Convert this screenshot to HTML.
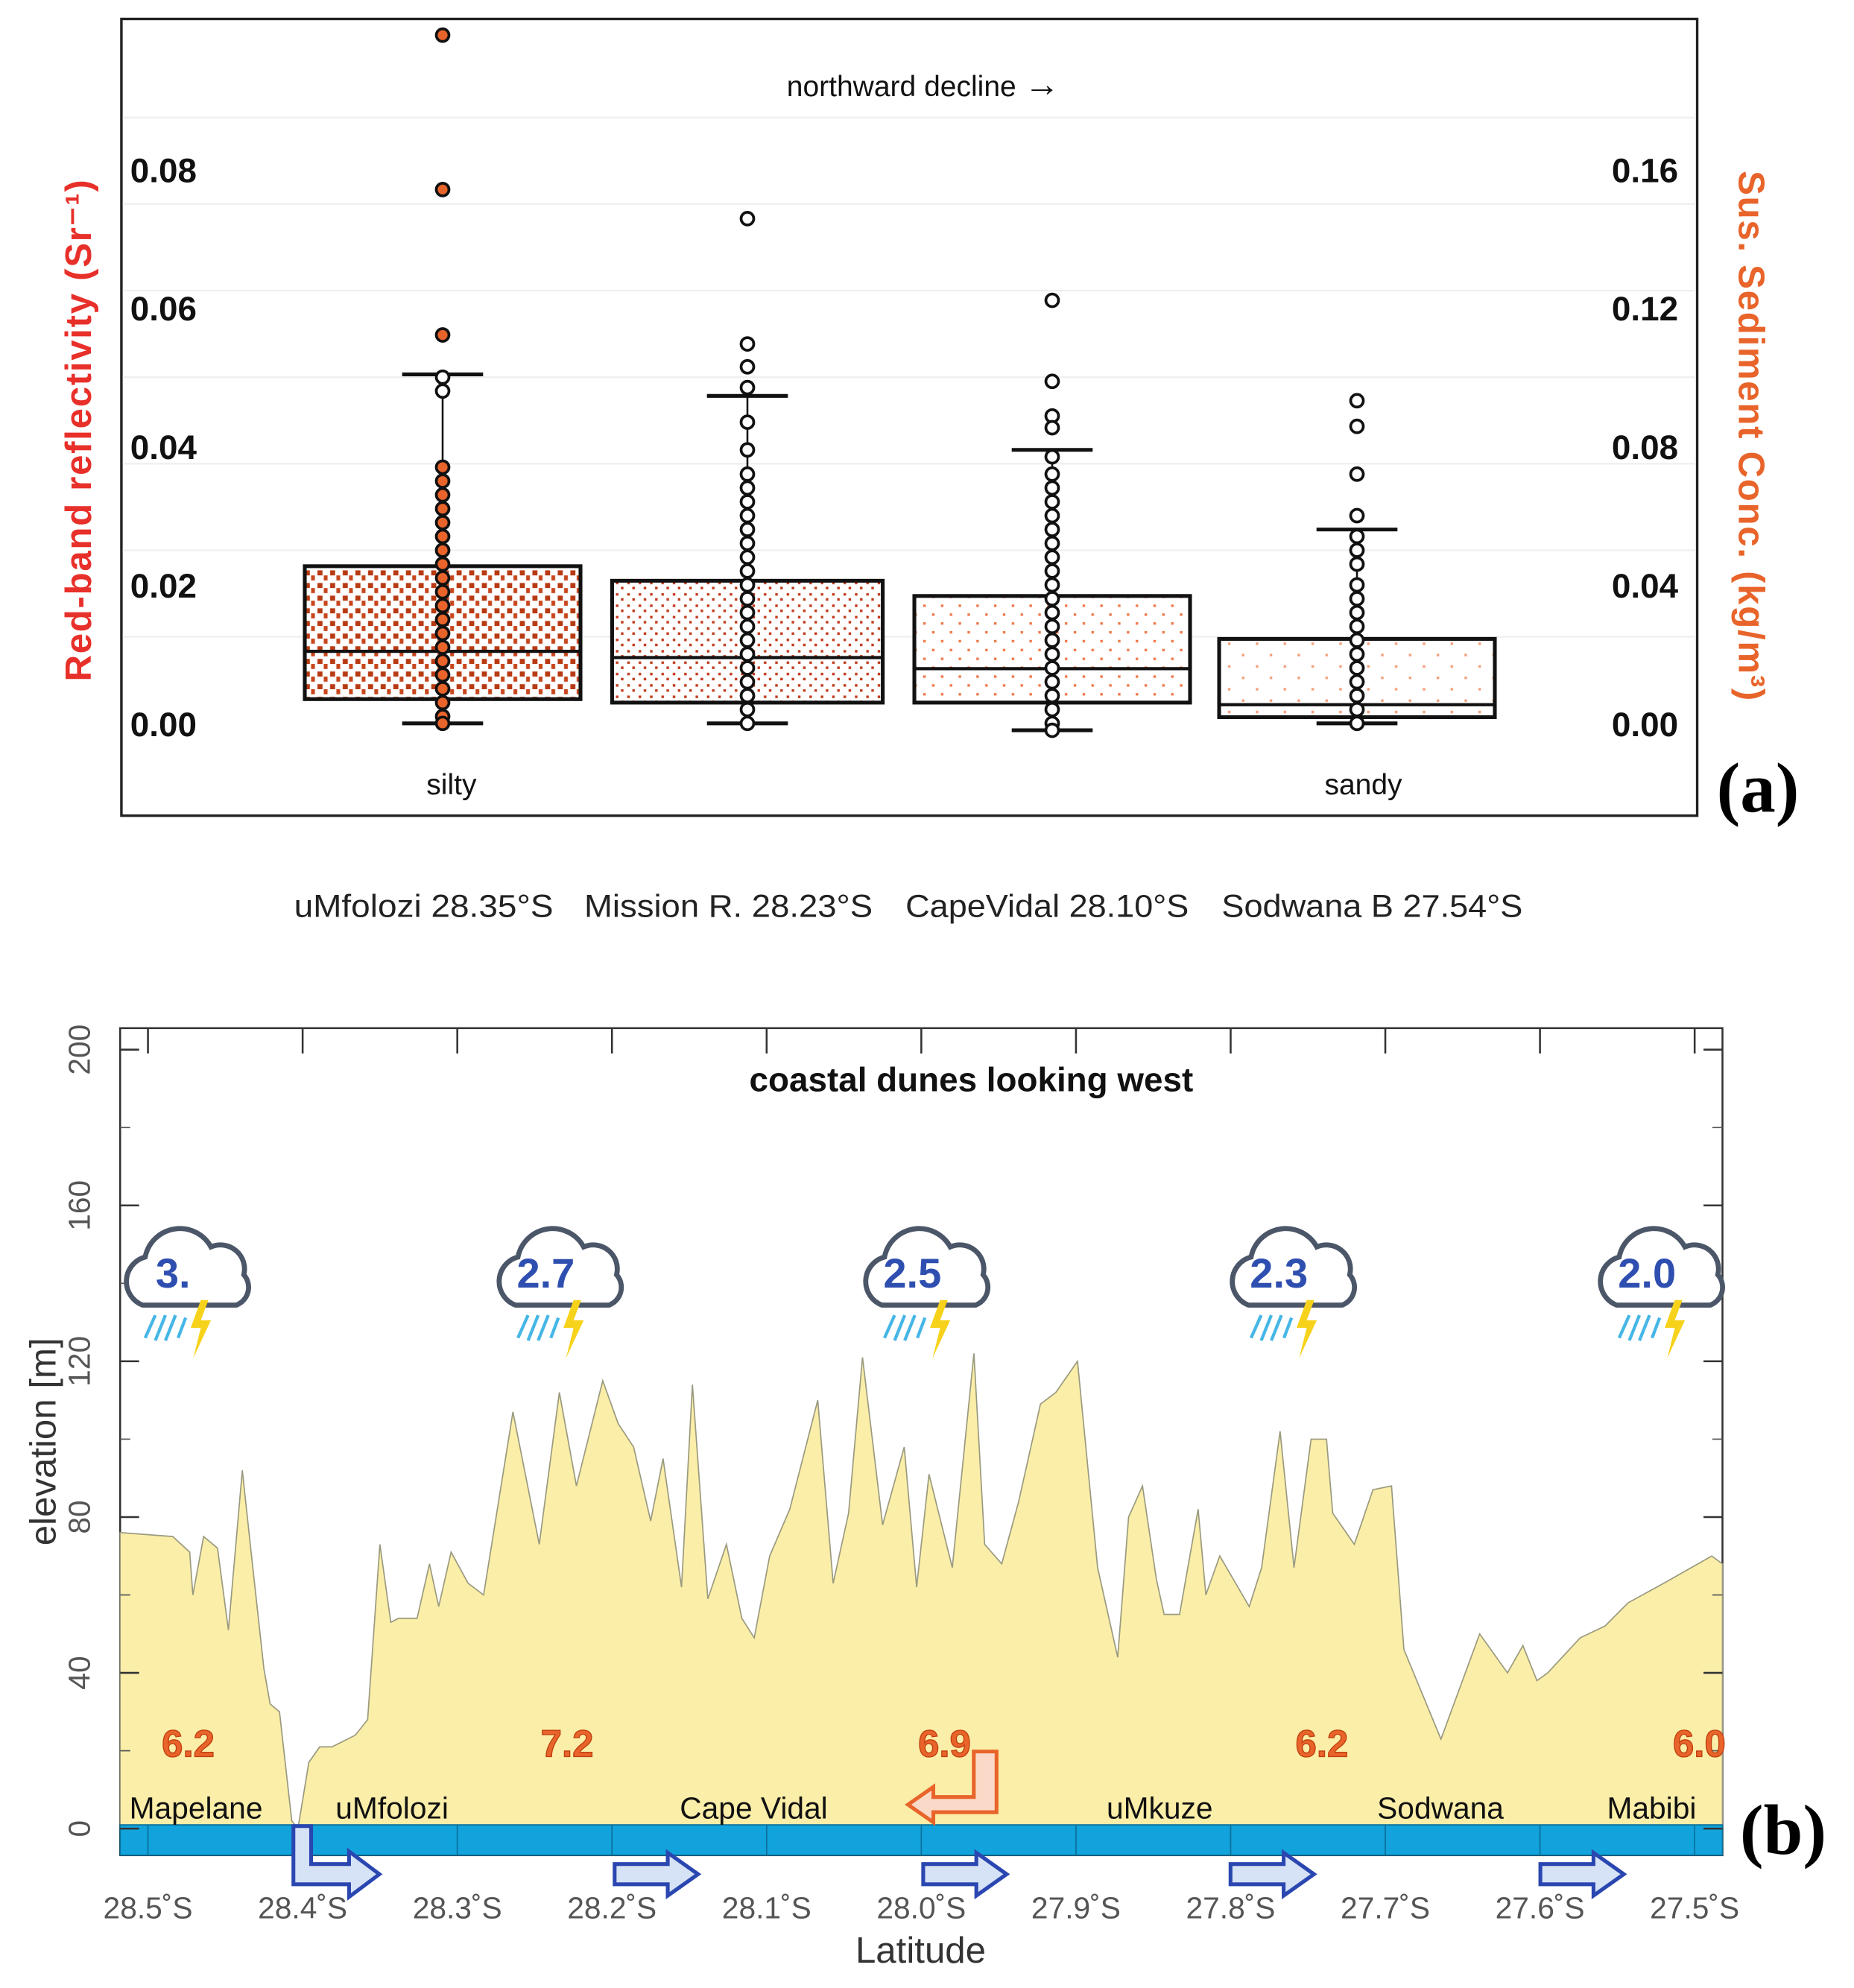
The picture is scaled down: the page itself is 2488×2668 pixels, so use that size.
<!DOCTYPE html>
<html><head><meta charset="utf-8"><style>
html,body{margin:0;padding:0;background:#fff}
svg{display:block}
text{font-family:"Liberation Sans",sans-serif}
</style></head><body>
<svg width="2488" height="2668" viewBox="0 0 1466 1572" preserveAspectRatio="none" xmlns="http://www.w3.org/2000/svg">
<defs>
<pattern id="p1" width="10" height="10" patternUnits="userSpaceOnUse"><rect width="10" height="10" fill="#fff"/><rect x="1" y="1" width="4" height="4" fill="#b83a12"/><rect x="6" y="5" width="3" height="4" fill="#c8461c"/></pattern>
<pattern id="p2" width="9" height="9" patternUnits="userSpaceOnUse"><rect width="9" height="9" fill="#fff"/><rect x="1" y="1" width="2" height="2" fill="#c0391a"/><rect x="5" y="5" width="2" height="2" fill="#c0391a"/></pattern>
<pattern id="p3" width="14" height="14" patternUnits="userSpaceOnUse"><rect width="14" height="14" fill="#fff"/><rect x="2" y="2" width="2" height="2" fill="#ef7a4a"/><rect x="9" y="9" width="2" height="2" fill="#ef7a4a"/></pattern>
<pattern id="p4" width="22" height="18" patternUnits="userSpaceOnUse"><rect width="22" height="18" fill="#fff"/><rect x="3" y="4" width="2" height="2" fill="#f4a07a"/><rect x="14" y="13" width="2" height="2" fill="#f4a07a"/></pattern>
<g id="cloud">
<path d="M-32,22 a20,20 0 0 1 2,-38 a28,28 0 0 1 52,-8 a19,19 0 0 1 26,22 a15,15 0 0 1 -6,24 z" fill="#fff" stroke="#4b5668" stroke-width="4"/>
<path d="M-22,30 l-8,18 M-14,30 l-8,20 M-6,30 l-8,20 M2,32 l-6,16" stroke="#45b6e6" stroke-width="2.5"/>
<path d="M14,18 l-8,22 h8 l-6,24 l14,-30 h-8 l6,-16 z" fill="#f7d21a"/>
</g>
</defs>

<!-- Panel (a) -->
<g>
<rect x="96" y="15" width="1246" height="630" fill="#fff" stroke="#222" stroke-width="2"/>
<g id="grid-a"></g>
<g id="boxes"></g>
<g id="ticks-a"></g>
<text x="730" y="76" font-size="23" text-anchor="middle" fill="#111">northward decline <tspan font-size="28">→</tspan></text>
<text x="357" y="628" font-size="23" text-anchor="middle" fill="#111">silty</text>
<text x="1078" y="628" font-size="23" text-anchor="middle" fill="#111">sandy</text>
<text x="1390" y="642" font-size="56" font-weight="bold" text-anchor="middle" style="font-family:'Liberation Serif',serif">(a)</text>
<text transform="translate(72,340) rotate(-90)" font-size="29" font-weight="bold" fill="#e8302a" text-anchor="middle" letter-spacing="1">Red-band reflectivity (Sr⁻¹)</text>
<text transform="translate(1375,345) rotate(90)" font-size="29" font-weight="bold" fill="#e8642a" text-anchor="middle" letter-spacing="1">Sus. Sediment Conc. (kg/m³)</text>
<g font-size="25" fill="#222" text-anchor="middle">
<text x="335" y="725" textLength="205" lengthAdjust="spacingAndGlyphs">uMfolozi 28.35°S</text>
<text x="576" y="725" textLength="228" lengthAdjust="spacingAndGlyphs">Mission R. 28.23°S</text>
<text x="828" y="725" textLength="224" lengthAdjust="spacingAndGlyphs">CapeVidal 28.10°S</text>
<text x="1085" y="725" textLength="238" lengthAdjust="spacingAndGlyphs">Sodwana B 27.54°S</text>
</g>
</g>

<!-- Panel (b) -->
<g>
<rect x="95" y="813" width="1267" height="654" fill="#fff" stroke="#333" stroke-width="1.5"/>
<path id="profile" fill="#fbeea8" stroke="#9a9a80" stroke-width="1"/>
<rect x="95" y="1443" width="1267" height="24" fill="#12a3dc" stroke="#0a6f9a" stroke-width="1"/>
<g id="ticks-b"></g>
<text x="768" y="863" font-size="27" font-weight="bold" text-anchor="middle" fill="#111">coastal dunes looking west</text>
<text x="728" y="1552" font-size="29" text-anchor="middle" fill="#333">Latitude</text>
<text transform="translate(44,1140) rotate(-90)" font-size="29" text-anchor="middle" fill="#333">elevation [m]</text>
<g id="weather"></g>
<g id="orange" font-size="30" font-weight="bold" fill="#e8642a" stroke="#c04010" stroke-width="0.8" text-anchor="middle"></g>
<g font-size="24" fill="#111" text-anchor="middle">
<text x="155" y="1438">Mapelane</text>
<text x="310" y="1438">uMfolozi</text>
<text x="596" y="1438">Cape Vidal</text>
<text x="917" y="1438">uMkuze</text>
<text x="1139" y="1438">Sodwana</text>
<text x="1306" y="1438">Mabibi</text>
</g>
<path d="M770,1385 h18 v48 h-50 v8 l-20,-14 l20,-14 v8 h32 v-36 z" fill="#fbd9c8" stroke="#e8642a" stroke-width="3"/>
<g fill="#d6e2f5" stroke="#2a46b0" stroke-width="3">
<path d="M232,1444 h14 v30 h30 v-10 l24,18 l-24,18 v-10 h-44 z"/>
<path d="M486,1474 h42 v-9 l24,17 l-24,17 v-9 h-42 z"/>
<path d="M730,1474 h42 v-9 l24,17 l-24,17 v-9 h-42 z"/>
<path d="M973,1474 h42 v-9 l24,17 l-24,17 v-9 h-42 z"/>
<path d="M1218,1474 h42 v-9 l24,17 l-24,17 v-9 h-42 z"/>
</g>
<text x="1410" y="1466" font-size="56" font-weight="bold" text-anchor="middle" style="font-family:'Liberation Serif',serif">(b)</text>
</g>

<script>
// ---- Panel (a) data ----
const sites = ["uMfolozi","Mission R.","CapeVidal","Sodwana B"];
const q1 = [0.0035,0.0030,0.0030,0.0009];
const med = [0.0104,0.0095,0.0079,0.0027];
const q3 = [0.0227,0.0206,0.0184,0.0122];
const whiskLo = [0.0,0.0,-0.001,0.0];
const whiskHi = [0.0504,0.0473,0.0395,0.0280];
const pts0 = [0.0994,0.0771,0.0561,0.0500,0.0480,0.037,0.035,0.033,0.031,0.029,0.027,0.025,0.023,0.021,0.019,0.017,0.015,0.013,0.011,0.009,0.007,0.005,0.003,0.001,0.0];
const pts1 = [0.0729,0.0548,0.0515,0.0485,0.0435,0.0395,0.036,0.034,0.032,0.030,0.028,0.026,0.024,0.022,0.020,0.018,0.016,0.014,0.012,0.010,0.008,0.006,0.004,0.002,0.0];
const pts2 = [0.0611,0.0494,0.0444,0.0427,0.0385,0.036,0.034,0.032,0.030,0.028,0.026,0.024,0.022,0.020,0.018,0.016,0.014,0.012,0.010,0.008,0.006,0.004,0.002,0.0,-0.001];
const pts3 = [0.0466,0.0429,0.0360,0.0300,0.0270,0.025,0.023,0.020,0.018,0.016,0.014,0.012,0.010,0.008,0.006,0.004,0.002,0.0];
const leftTicks = ["0.00","0.02","0.04","0.06","0.08"];
const leftTickVals = [0,0.02,0.04,0.06,0.08];
const rightTicks = ["0.00","0.04","0.08","0.12","0.16"];
const rightTickVals = [0,0.04,0.08,0.12,0.16];

// ---- Panel (b) data ----
const latTicks = [28.5,28.4,28.3,28.2,28.1,28.0,27.9,27.8,27.7,27.6,27.5];
const elevTicks = [0,40,80,120,160,200];
const profLat = [28.518,28.484,28.473,28.471,28.464,28.455,28.448,28.439,28.433,28.425,28.421,28.415,28.407,28.403,28.396,28.389,28.381,28.366,28.358,28.350,28.343,28.338,28.326,28.318,28.312,28.304,28.293,28.283,28.264,28.247,28.234,28.223,28.206,28.196,28.186,28.175,28.167,28.155,28.148,28.138,28.126,28.116,28.108,28.098,28.085,28.067,28.057,28.047,28.038,28.025,28.011,28.003,27.995,27.980,27.966,27.959,27.948,27.937,27.923,27.913,27.899,27.886,27.873,27.866,27.857,27.848,27.843,27.833,27.821,27.816,27.807,27.788,27.780,27.768,27.759,27.748,27.738,27.734,27.720,27.708,27.696,27.688,27.664,27.639,27.621,27.611,27.602,27.595,27.574,27.558,27.543,27.520,27.489,27.482];
const profElev = [76,75,71,60,75,72,51,92,70,41,32,30,2,0,17,21,21,24,28,73,53,54,54,68,57,71,63,60,107,73,112,88,115,104,98,79,95,62,114,59,73,54,49,70,82,110,63,81,121,78,98,62,91,67,122,73,68,84,109,112,120,67,44,80,88,64,55,55,82,60,70,57,67,102,67,100,100,81,73,87,88,46,23,50,40,47,38,40,49,52,58,63,70,68];
const rainVals = ["3.0","2.7","2.5","2.3","2.0"];
const rainLat = [28.474,28.233,27.996,27.759,27.521];
const waveVals = ["6.2","7.2","6.9","6.2","6.0"];
const waveLat = [28.474,28.229,27.985,27.741,27.497];

const NS="http://www.w3.org/2000/svg";
function mk(tag,attrs,parent){const e=document.createElementNS(NS,tag);for(const k in attrs)e.setAttribute(k,attrs[k]);parent.appendChild(e);return e;}

const yA = v => 572 - v*5475;
const yR = v => 572 - v*2737.5;
const xB = lat => 117 + (28.5-lat)*1223;
const yB = e => 1446 - e*3.08;

const gA=document.getElementById('grid-a');
for(let i=1;i<=7;i++){const g=mk('line',{x1:97,x2:1341,y1:yR(i*0.025),y2:yR(i*0.025),stroke:'#eeeeee','stroke-width':1.2},gA);

}
const tA=document.getElementById('ticks-a');
leftTicks.forEach((t,i)=>{const e=mk('text',{x:103,y:yA(leftTickVals[i])+10,'font-size':27,'font-weight':'bold',fill:'#111'},tA);e.textContent=t;

});
rightTicks.forEach((t,i)=>{const e=mk('text',{x:1327,y:yR(rightTickVals[i])+10,'font-size':27,'font-weight':'bold',fill:'#111','text-anchor':'end'},tA);e.textContent=t;

});

const boxX=[[241,459],[484,698],[723,941],[964,1182]];
const pats=['url(#p1)','url(#p2)','url(#p3)','url(#p4)'];
const allPts=[pts0,pts1,pts2,pts3];
const gB=document.getElementById('boxes');
sites.forEach((s,i)=>{
  const [x0,x1]=boxX[i];
  const px = [350,591,832,1073][i];
  const g=mk('g',{},gB);
  
  
  mk('line',{x1:px,x2:px,y1:yA(whiskHi[i]),y2:yA(whiskLo[i]),stroke:'#111','stroke-width':1.5},g);
  mk('line',{x1:px-32,x2:px+32,y1:yA(whiskHi[i]),y2:yA(whiskHi[i]),stroke:'#111','stroke-width':3},g);
  mk('line',{x1:px-32,x2:px+32,y1:yA(whiskLo[i]),y2:yA(whiskLo[i]),stroke:'#111','stroke-width':3},g);
  mk('rect',{x:x0,y:yA(q3[i]),width:x1-x0,height:yA(q1[i])-yA(q3[i]),fill:pats[i],stroke:'#111','stroke-width':3},g);
  mk('line',{x1:x0,x2:x1,y1:yA(med[i]),y2:yA(med[i]),stroke:'#111','stroke-width':2.5},g);
  allPts[i].forEach(v=>{const c=mk('circle',{cx:px,cy:yA(v),r:5,fill:i==0&&(v>0.052||v<0.04)?'#e8642a':'#fff',stroke:'#111','stroke-width':2.2},g);
    
    });
});

let d='M'+xB(profLat[0]).toFixed(1)+','+yB(0);
profLat.forEach((la,i)=>{d+=' L'+xB(la).toFixed(1)+','+yB(profElev[i]).toFixed(1);});
d+=' L'+xB(profLat[profLat.length-1]).toFixed(1)+','+yB(0)+' Z';
document.getElementById('profile').setAttribute('d',d);

const tB=document.getElementById('ticks-b');
latTicks.forEach(l=>{const x=xB(l);
  mk('line',{x1:x,x2:x,y1:813,y2:833,stroke:'#333','stroke-width':1.5},tB);
  mk('line',{x1:x,x2:x,y1:1443,y2:1467,stroke:'#0a6f9a','stroke-width':1},tB);
  const t=mk('text',{x:x,y:1517,'font-size':24,'text-anchor':'middle',fill:'#555'},tB);t.textContent=l.toFixed(1)+'˚S';
  
  });
elevTicks.forEach(e=>{const y=yB(e);
  mk('line',{x1:95,x2:110,y1:y,y2:y,stroke:'#333','stroke-width':1.5},tB);
  mk('line',{x1:1347,x2:1362,y1:y,y2:y,stroke:'#333','stroke-width':1.5},tB);
  if(e<200){mk('line',{x1:95,x2:103,y1:yB(e+20),y2:yB(e+20),stroke:'#555','stroke-width':1},tB);mk('line',{x1:1354,x2:1362,y1:yB(e+20),y2:yB(e+20),stroke:'#555','stroke-width':1},tB);}
  const t=mk('text',{transform:`translate(71,${y}) rotate(-90)`,'font-size':24,'text-anchor':'middle',fill:'#555'},tB);t.textContent=e;
  
  });

const gW=document.getElementById('weather');
rainVals.forEach((v,i)=>{const x=xB(rainLat[i]);
  const g=mk('g',{transform:`translate(${x-4},1010)`},gW);
  
  
  mk('use',{href:'#cloud'},g);
  const t=mk('text',{x:-8,y:8,'font-size':33,'font-weight':'bold',fill:'#2f4fb0','text-anchor':'middle'},g);t.textContent=i==0?'3.':v;});
const gO=document.getElementById('orange');
waveVals.forEach((v,i)=>{const t=mk('text',{x:xB(waveLat[i]),y:1389},gO);t.textContent=v;
  
  });
</script>
</svg>
</body></html>
